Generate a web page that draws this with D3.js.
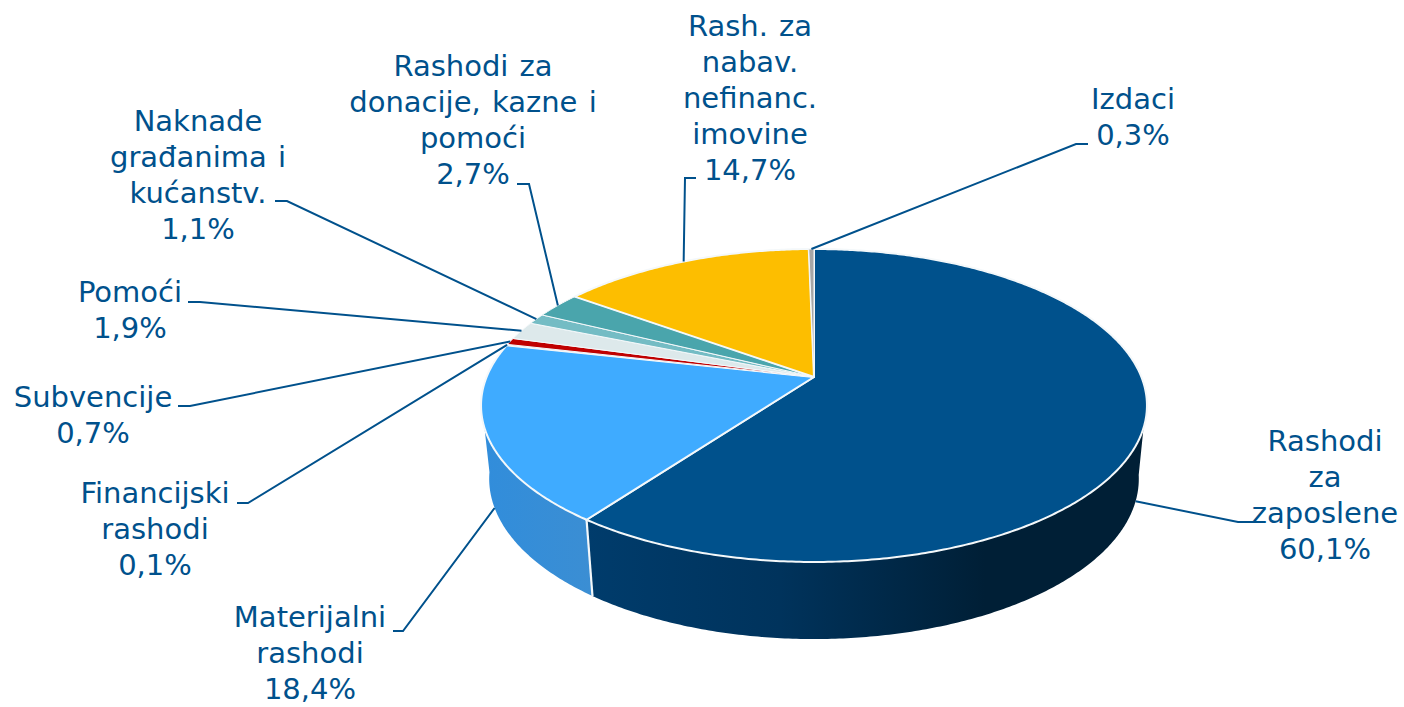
<!DOCTYPE html>
<html>
<head>
<meta http-equiv="Content-type" content="text/html; charset=utf-8">
<title>Rashodi</title>
<style>
  html, body { margin: 0; padding: 0; background: #fff; }
  svg { display: block; }
  .lbl { font-family: "DejaVu Sans", Verdana, sans-serif; font-size: 29px; word-spacing: 2px; fill: #00518c; text-anchor: middle; }
  .leader { fill: none; stroke: #00518c; stroke-width: 2; }
</style>
<script src="https://cdnjs.cloudflare.com/ajax/libs/d3/7.8.5/d3.min.js"></script>
</head>
<body>
<script type="text/javascript">
// values as printed on the chart, clockwise from 12 o'clock
var categories = ["Rashodi za zaposlene", "Materijalni rashodi", "Financijski rashodi", "Subvencije", "Pomoći",
                  "Naknade građanima i kućanstv.", "Rashodi za donacije, kazne i pomoći",
                  "Rash. za nabav. nefinanc. imovine", "Izdaci"];
var values = [60.1, 18.4, 0.1, 0.7, 1.9, 1.1, 2.7, 14.7, 0.3];
var labelLines = [["Rashodi", "za", "zaposlene"], ["Materijalni", "rashodi"], ["Financijski", "rashodi"], ["Subvencije"], ["Pomoći"],
                  ["Naknade", "građanima i", "kućanstv."], ["Rashodi za", "donacije, kazne i", "pomoći"],
                  ["Rash. za", "nabav.", "nefinanc.", "imovine"], ["Izdaci"]];
var colors = ["#00518c", "#3fabff", "#f7c4c4", "#c00000", "#dde9eb", "#74bcc4", "#4aa5ac", "#fdbe00", "#a6a6a6"];

// label placement: centre x, first line y, and the elbow of the leader
var labelX = [1325, 310, 155, 93, 130, 198, 473, 750, 1133];
var labelY = [441, 617, 493, 397, 292, 121, 66, 26, 99];
var elbowX = [1238, 403, 248, 190, 200, 287, 529, 685, 1076];
var elbowY = [522, 631, 503, 406, 302, 201, 184, 178, 144];
var stubX = [1254, 393, 237, 178, 188, 275, 517, 696, 1088];

var lineStep = 35.9;

var width = 1404, height = 707;

// perspective discs: top face and bottom face of the pie
var topFace = { cx: 814, cy: 377, a: 327.4, b: 151.3, k: 0.182 };
var botFace = { cx: 814, cy: 450, a: 319.5, b: 155, k: 0.18 };

function project(face, ang) {
  var u = Math.sin(ang), v = -Math.cos(ang), w = 1 - face.k * v;
  return [face.cx + face.a * u / w, face.cy + face.b * v / w];
}

function arcPoints(face, a0, a1) {
  var n = Math.max(2, Math.ceil(Math.abs(a1 - a0) / 0.01)), pts = [];
  for (var i = 0; i <= n; i++) pts.push(project(face, a0 + (a1 - a0) * i / n));
  return pts;
}

var rad = Math.PI / 180;
var pie = d3.pie().sort(null).value(function(d) { return d; });
var slices = pie(values);
var color = d3.scaleOrdinal().domain(categories).range(colors);
// thin slices would vanish under the full seam
var seam = d3.scaleThreshold().domain([5]).range([1, 2]);
var line = d3.line();
var fmt = d3.formatLocale({ decimal: ",", thousands: ".", grouping: [3], currency: ["", ""] }).format(".1f");

var svg = d3.select("body").append("svg").attr("width", width).attr("height", height);

var defs = svg.append("defs");
function sideGradient(id, x0, x1, stops) {
  var g = defs.append("linearGradient").attr("id", id).attr("gradientUnits", "userSpaceOnUse")
    .attr("x1", x0).attr("x2", x1).attr("y1", 0).attr("y2", 0);
  stops.forEach(function(s) { g.append("stop").attr("offset", s[0]).attr("stop-color", s[1]); });
}
sideGradient("sideNavy", 586, 1140, [[0, "#003c6c"], [0.35, "#00335c"], [0.72, "#001f36"], [1, "#001f36"]]);
sideGradient("sideBlue", 485, 592, [[0, "#318ddb"], [1, "#3b8ed3"]]);

// visible wall: only the two front slices reach it
var sideEnd = slices[0].endAngle;
var walls = [
  { fill: "url(#sideNavy)", top: [108.5 * rad, sideEnd], bot: [sideEnd, 99 * rad] },
  { fill: "url(#sideBlue)", top: [sideEnd, 251.5 * rad], bot: [262 * rad, sideEnd] }
];
svg.selectAll("path.wall").data(walls).enter().append("path")
  .attr("class", "wall")
  .attr("fill", function(d) { return d.fill; })
  .attr("d", function(d) {
    return line(arcPoints(topFace, d.top[0], d.top[1]).concat(arcPoints(botFace, d.bot[0], d.bot[1]))) + "Z";
  });

// white seam between the two walls
svg.append("path").attr("fill", "none").attr("stroke", "#f4f8fa").attr("stroke-width", 2.2)
  .attr("d", line([project(topFace, sideEnd), project(botFace, sideEnd)]));

// top face
svg.selectAll("path.slice").data(slices).enter().append("path")
  .attr("class", "slice")
  .attr("fill", function(d, i) { return color(categories[i]); })
  .attr("stroke", "#f4f8fa")
  .attr("stroke-width", function(d) { return seam(d.value); })
  .attr("stroke-linejoin", "round")
  .attr("d", function(d) {
    return line([[topFace.cx, topFace.cy]].concat(arcPoints(topFace, d.startAngle, d.endAngle))) + "Z";
  });

// leaders: the two front slices end on the lower rim, the rest on the top rim
svg.selectAll("path.leader").data(slices).enter().append("path")
  .attr("class", "leader")
  .attr("d", function(d, i) {
    var mid = (d.startAngle + d.endAngle) / 2;
    var end = project(i < 2 ? botFace : topFace, mid);
    return line([[stubX[i], elbowY[i]], [elbowX[i], elbowY[i]], end]);
  });

// labels
var labels = svg.selectAll("text.lbl").data(slices).enter().append("text")
  .attr("class", "lbl")
  .attr("x", function(d, i) { return labelX[i]; })
  .attr("y", function(d, i) { return labelY[i]; })
  .attr("dominant-baseline", "central");
labels.each(function(d, i) {
  var t = d3.select(this);
  labelLines[i].concat([fmt(values[i]) + "%"]).forEach(function(s, j) {
    t.append("tspan").attr("x", labelX[i]).attr("y", labelY[i] + j * lineStep).text(s);
  });
});
</script>
</body>
</html>
